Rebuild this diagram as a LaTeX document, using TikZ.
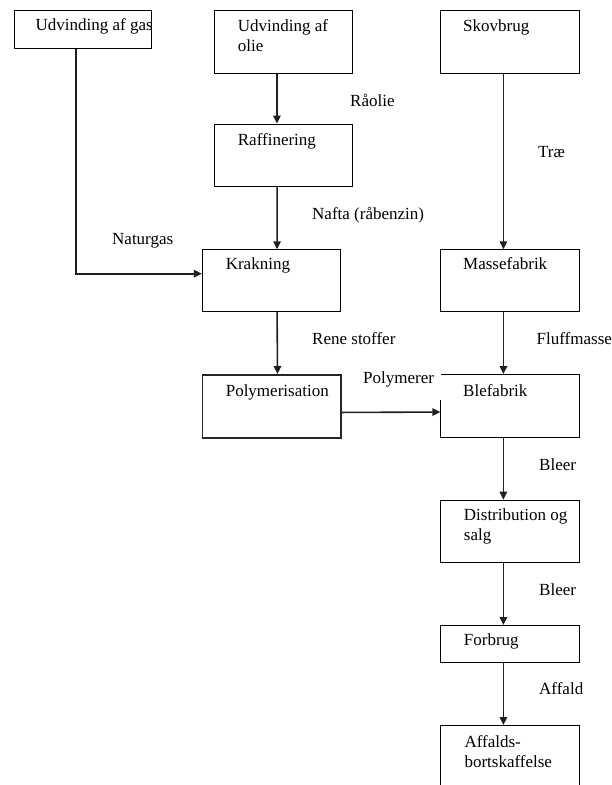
\documentclass[tikz,border=0pt]{standalone}
\usepackage{fontspec}
\setmainfont{Liberation Serif}
\usetikzlibrary{arrows.meta}
\begin{document}
\begin{tikzpicture}[x=1pt,y=-1pt,
  box/.style={draw, line width=0.8pt, anchor=north west, inner sep=0},
  polybox/.style={box, line width=1.6pt, draw=black!85},
  txt/.style={anchor=base west, inner sep=0, align=left, font=\fontsize{17}{20}\selectfont},
  flow/.style={line width=1.6pt, draw=black!88, -{Triangle[length=8pt,width=7.5pt]}}
]
\useasboundingbox (0,0) rectangle (612,785);
\clip (0,0) rectangle (612,785);

% boxes
\node[box, minimum width=137.7pt, minimum height=38.3pt] (gas) at (13.7,10) {};
\node[box, minimum width=137.7pt, minimum height=63pt] (oil) at (214.3,10) {};
\node[box, minimum width=139pt, minimum height=63pt] (skov) at (440.3,10) {};
\node[box, minimum width=137.7pt, minimum height=62.2pt] (raf) at (214.3,123.5) {};
\node[box, minimum width=138.6pt, minimum height=61.7pt] (krak) at (201.8,249.3) {};
\node[box, minimum width=139pt, minimum height=61.7pt] (masse) at (440.3,249.3) {};
\node[polybox, minimum width=138.6pt, minimum height=63.3pt] (poly) at (201.8,374) {};
\node[box, minimum width=139pt, minimum height=63.3pt] (ble) at (440.3,374) {};
\node[box, minimum width=139pt, minimum height=62.6pt] (dist) at (440.3,499.7) {};
\node[box, minimum width=139pt, minimum height=37.3pt] (forb) at (440.3,625) {};
\node[box, minimum width=139pt, minimum height=80pt] (affb) at (440.3,725) {};

% box texts (multi-line nodes: base anchor is on the last line)
\node[txt] (gasT) at (35.5,30.5) {Udvinding af gas};
\node[txt] (oilT) at (237.7,51.5) {Udvinding af\\olie};
\node[txt] (skovT) at (463,31.5) {Skovbrug};
\node[txt] (rafT) at (237.7,145.5) {Raffinering};
\node[txt] (krakT) at (225.6,269.8) {Krakning};
\node[txt] (masseT) at (463,269.8) {Massefabrik};
\node[txt] (polyT) at (225.6,396.2) {Polymerisation};
\node[txt] (bleT) at (463,396.2) {Blefabrik};
\node[txt] (distT) at (463.7,540.5) {Distribution og\\salg};
\node[txt] (forbT) at (463.7,645.5) {Forbrug};
\node[txt] (affbT) at (464.3,767) {Affalds-\\bortskaffelse};

% connectors
\draw[flow] ([xshift=-6.85pt]gas.south) |- ([yshift=6.85pt]krak.west);
\draw[flow] ([xshift=-6.6pt]oil.south) -- ([xshift=-6.6pt]raf.north);
\draw[flow] ([xshift=-6.5pt]raf.south) -- ([xshift=5.6pt]krak.north);
\draw[flow] ([xshift=5.6pt]krak.south) -- ([xshift=5.6pt]poly.north);
\draw[flow] ([xshift=-6.8pt]skov.south) -- ([xshift=-6.8pt]masse.north);
\draw[flow] ([xshift=-6.8pt]masse.south) -- ([xshift=-6.8pt]ble.north);
\draw[flow] ([yshift=-6pt]poly.east) -- ([yshift=-6pt]ble.west);
\draw[flow] ([xshift=-6.8pt]ble.south) -- ([xshift=-6.8pt]dist.north);
\draw[flow] ([xshift=-6.8pt]dist.south) -- ([xshift=-6.8pt]forb.north);
\draw[flow] ([xshift=-6.8pt]forb.south) -- ([xshift=-6.8pt]affb.north);

% connector labels
\node[txt] (lRaolie) at (350,106.5) {Råolie};
\node[txt] (lTrae) at (538,157.8) {Træ};
\node[txt] (lNafta) at (312,219.5) {Nafta (råbenzin)};
\node[txt] (lNaturgas) at (112,244.5) {Naturgas};
\node[txt] (lRene) at (312,344.5) {Rene stoffer};
\node[txt] (lFluff) at (536.5,344.5) {Fluffmasse};
\node[txt, fill=white, text height=12pt, text depth=16pt, text width=78pt] (lPolymerer) at (363,383.8) {Polymerer};
\node[txt] (lBleer1) at (539,470.5) {Bleer};
\node[txt] (lBleer2) at (539,595.5) {Bleer};
\node[txt] (lAffald) at (539,694.8) {Affald};
\end{tikzpicture}
\end{document}
